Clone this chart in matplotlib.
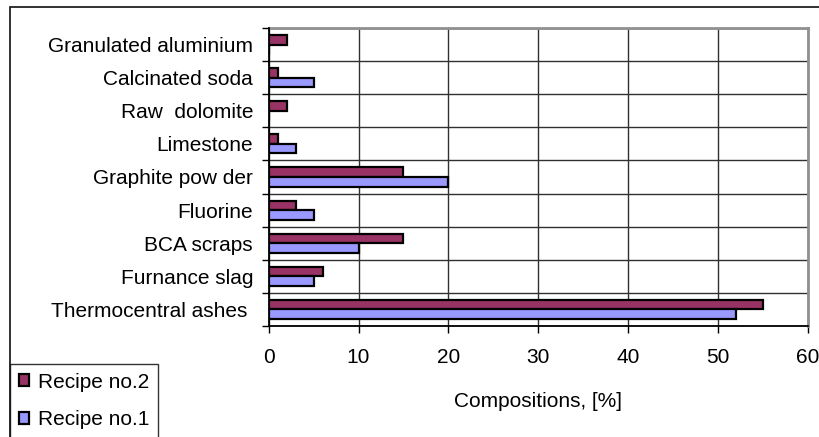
import matplotlib
matplotlib.use("Agg")
import matplotlib.pyplot as plt
import numpy as np
from matplotlib.patches import Rectangle

plt.rcParams['font.family'] = ['Liberation Sans', 'DejaVu Sans']

categories = ["Granulated aluminium", "Calcinated soda", "Raw  dolomite",
              "Limestone", "Graphite pow der", "Fluorine", "BCA scraps",
              "Furnance slag", "Thermocentral ashes "]
recipe2 = [2, 1, 2, 1, 15, 3, 15, 6, 55]
recipe1 = [0, 5, 0, 3, 20, 5, 10, 5, 52]
xticks = [0, 10, 20, 30, 40, 50, 60]

W, H = 819, 437
fig = plt.figure(figsize=(W / 100, H / 100), dpi=100, facecolor='white')

# chart-area frame (runs off the right and bottom edges)
fig.add_artist(Rectangle((10 / W, -0.1), 1.2, (H - 7.3) / H + 0.1,
                         transform=fig.transFigure, fill=False,
                         edgecolor='#222222', linewidth=1.3, zorder=0))

ax = fig.add_axes([268.7 / W, (H - 326) / H, (807.5 - 268.7) / W, (326 - 28) / H])

fs = 15
y = np.arange(len(categories))
h = 0.29
bars2 = ax.barh(y - h / 2, recipe2, height=h, color='#993366',
                edgecolor='black', linewidth=1.6, zorder=3, label='Recipe no.2')
bars1 = ax.barh(y + h / 2, recipe1, height=h, color='#9999FF',
                edgecolor='black', linewidth=1.6, zorder=3, label='Recipe no.1')

ax.set_xlim(0, 60)
ax.set_ylim(len(categories) - 0.5, -0.5)
ax.set_xticks(xticks)
ax.set_xticklabels([str(t) for t in xticks], fontsize=fs)
ax.tick_params(axis='x', direction='out', length=5, width=1, pad=10.5, colors='black')

ax.set_yticks(np.arange(-0.5, len(categories), 1.0))
ax.set_yticklabels([])
ax.set_yticks(y, minor=True)
ax.set_yticklabels(categories, minor=True, fontsize=fs)
ax.tick_params(axis='y', which='major', direction='out', length=5, width=1)
ax.tick_params(axis='y', which='minor', length=0, pad=11.3)

ax.grid(True, which='major', axis='both', color='#303030', linewidth=1, zorder=0)
ax.set_axisbelow(True)

for side in ('top', 'right'):
    ax.spines[side].set_color('#909090')
    ax.spines[side].set_linewidth(2)
for side in ('left', 'bottom'):
    ax.spines[side].set_color('black')
    ax.spines[side].set_linewidth(1.3)
    ax.spines[side].set_zorder(4)

ax.set_xlabel("Compositions, [%]", fontsize=fs)
ax.xaxis.set_label_coords(0.5, -0.222)

leg = fig.legend(handles=[bars2, bars1], labels=['Recipe no.2', 'Recipe no.1'],
                 loc='upper left', bbox_to_anchor=(10 / W, (H - 364) / H),
                 fontsize=fs, frameon=True, fancybox=False, shadow=False,
                 handlelength=0.5, handleheight=0.5, handletextpad=0.4,
                 labelspacing=0.88, borderpad=0.42, borderaxespad=0)
leg.get_frame().set_edgecolor('black')
leg.get_frame().set_linewidth(1)

fig.savefig("out.png", dpi=100, facecolor='white')
